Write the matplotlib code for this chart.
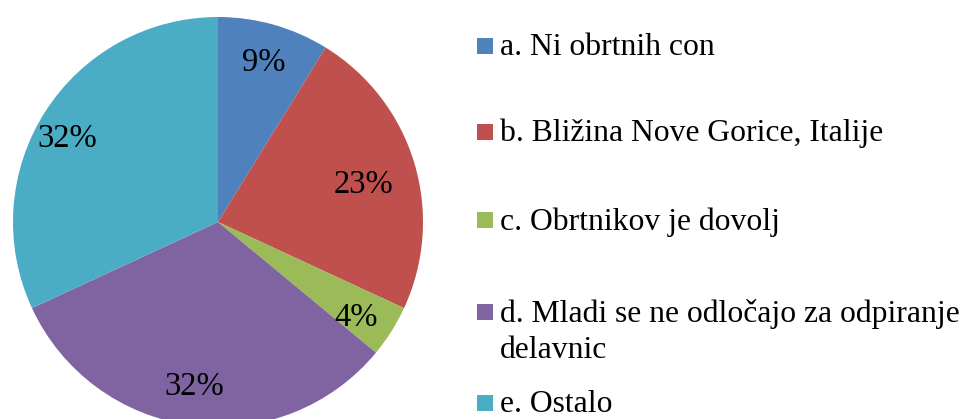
import numpy as np
import matplotlib.pyplot as plt
from matplotlib.patches import Rectangle

# Data
labels = ['a. Ni obrtnih con',
          'b. Bližina Nove Gorice, Italije',
          'c. Obrtnikov je dovolj',
          'd. Mladi se ne odločajo za odpiranje\ndelavnic',
          'e. Ostalo']
shares = [8.8, 23.1, 4.1, 32.1, 31.9]
colors = ['#4F81BD', '#C0504D', '#9BBB59', '#8064A2', '#4BACC6']

# placement of each percentage label: distance (fraction of radius)
# and angular nudge (degrees) from the slice middle
label_dist = [0.81, 0.73, 0.82, 0.81, 0.84]
label_turn = [0, -2.5, -2.3, -1.0, 3.5]

plt.rcParams['font.family'] = ['Liberation Serif', 'DejaVu Serif']

W, H = 968, 419
fig = plt.figure(figsize=(W / 100, H / 100), dpi=100)

# pie: centre (218, 222) px, radius 205 px
cx, cy, r = 218, 222, 205
ax = fig.add_axes([(cx - r) / W, (H - cy - r) / H, 2 * r / W, 2 * r / H])
wedges, texts, autotexts = ax.pie(shares, colors=colors, startangle=90,
                                  counterclock=False, radius=1,
                                  autopct='%.0f%%', pctdistance=0.8,
                                  textprops={'fontsize': 23.5, 'color': 'black'})
for w, t, d, turn in zip(wedges, autotexts, label_dist, label_turn):
    mid = np.deg2rad((w.theta1 + w.theta2) / 2 + turn)
    t.set_position((d * np.cos(mid), d * np.sin(mid)))
ax.set_xlim(-1, 1)
ax.set_ylim(-1, 1)
ax.set_aspect('auto')
ax.axis('off')

# legend drawn by hand so the marker sits on the first line of a wrapped label
legend_y = [46, 132, 220, 312, 403]
for lab, col, y in zip(labels, colors, legend_y):
    fig.patches.append(Rectangle((477 / W, (H - y - 8) / H), 16 / W, 16 / H,
                                 transform=fig.transFigure, facecolor=col,
                                 edgecolor='none'))
    fig.text(500 / W, (H - y + 13) / H, lab, fontsize=22.8, va='top',
             ha='left', linespacing=1.3)

fig.savefig('out.png', dpi=100)
